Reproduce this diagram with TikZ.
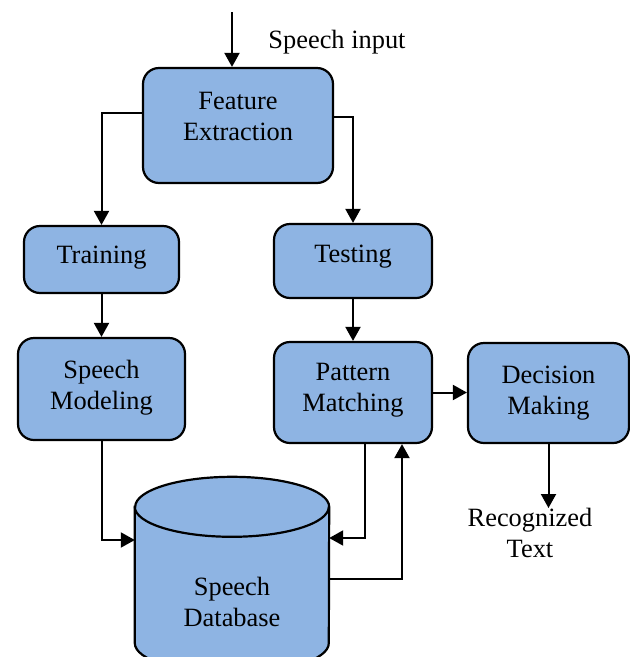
\documentclass[tikz,border=0pt]{standalone}
\usepackage{fontspec}
\setmainfont{Liberation Serif}
\usepackage{xcolor}
\usetikzlibrary{positioning, arrows.meta}
\definecolor{boxblue}{HTML}{8EB4E3}

\begin{document}
\begin{tikzpicture}[x=1pt, y=-1pt,
    every node/.style={font=\fontsize{26.4}{31}\selectfont, align=center, inner sep=0pt},
    box/.style={draw, line width=2.2pt, fill=boxblue, rounded corners=16pt},
    arr/.style={line width=2pt, -{Triangle[length=14pt,width=15pt]}}]
    \clip (0,0) rectangle (630,657);
    \foreach \n/\x/\y/\w/\h/\o/\t in {fe/238/125.5/190/115/9/{Feature\\Extraction},
        train/101.5/259.5/155/67/2/{Training}, test/353/261/158/74/4/{Testing},
        model/101.5/389/167/102/1/{Speech\\Modeling}, match/353/392.5/158/101/2/{Pattern\\Matching},
        decide/548.5/393/161/100/0/{Decision\\Making}} {
        \node[box, minimum width=\w pt, minimum height=\h pt,
            label={[name=\n-text, yshift=\o pt]center:\t}] (\n) at (\x,\y) {};
    }
    % database drum
    \node[minimum width=194pt, minimum height=136pt] (db) at (232,575) {};
    \draw[line width=2.2pt, fill=boxblue] (db.north west) -- (db.south west)
        arc[start angle=180, end angle=0, x radius=97, y radius=30] -- (db.north east)
        arc[start angle=0, end angle=-180, x radius=97, y radius=30] -- cycle;
    \draw[line width=2.2pt] (db.north west) arc[start angle=180, end angle=0, x radius=97, y radius=30];
    \node (dbtext) at (232,602) {Speech\\Database};
    \coordinate (in) at (232,12);
    \node (inlabel) at (337,42) {Speech input};
    \node (rec) at (530,533) {Recognized\\Text};
    \draw[arr] (in) -- (in |- fe.north);
    \draw[arr] ([yshift=12.5pt]fe.west) -| (train.north);
    \draw[arr] ([yshift=8.5pt]fe.east) -| (test.north);
    \draw[arr] (train) -- (model);
    \draw[arr] (test) -- (match);
    \draw[arr] (match.east) -- (match.east -| decide.west);
    \draw[arr] (decide.south) -- (decide.south |- rec.north);
    \draw[arr] (model.south) |- ([yshift=35pt]db.west);
    \draw[arr] ([xshift=12pt]match.south) |- ([yshift=37pt]db.east);
    \draw[arr] ([yshift=-4pt]db.east) -| ([xshift=49pt]match.south);
\end{tikzpicture}
\end{document}
